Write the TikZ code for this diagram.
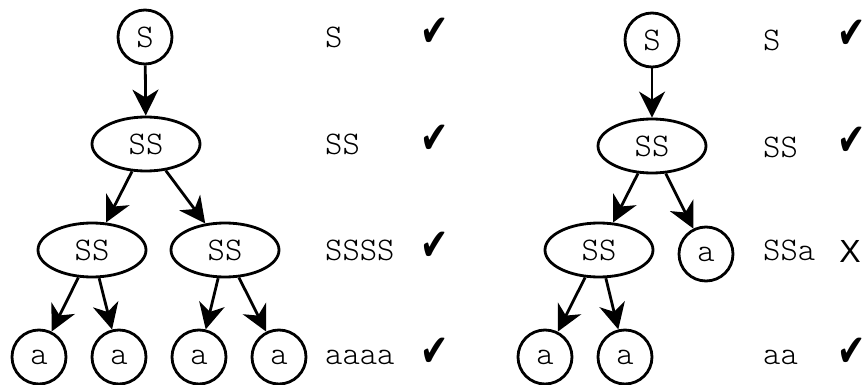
\documentclass[tikz,border=0pt]{standalone}
\usepackage{fontspec}
\usetikzlibrary{shapes.geometric,arrows.meta}
\newfontfamily\symfont{DejaVu Sans}
\newfontfamily\xfont{Liberation Sans}
\begin{document}
\begin{tikzpicture}[x=1pt,y=-1pt,
  every node/.style={font=\ttfamily\fontseries{l}\fontsize{33}{36}\selectfont},
  circ/.style={draw,circle,line width=2.8pt,minimum size=54pt,inner sep=0pt},
  ell/.style={draw,ellipse,line width=2.8pt,minimum width=108pt,minimum height=54pt,inner sep=0pt},
  arr/.style={line width=2.8pt,-{Stealth[length=26pt,width=26pt,inset=8pt]}},
  lbl/.style={anchor=west,inner sep=0pt},
  chk/.style={inner sep=0pt,xscale=0.75,font=\symfont\fontsize{45}{46}\selectfont},
  crs/.style={inner sep=0pt,font=\xfont\fontsize{32}{36}\selectfont}]
\useasboundingbox (0,0) rectangle (868,385);
% left tree
\node[circ] (l1) at (145,37) {S};
\node[ell] (l2) at (146,144) {SS};
\node[ell] (l3a) at (92,250) {SS};
\node[ell] (l3b) at (225,250) {SS};
\node[circ] (l4a) at (39,357) {a};
\node[circ] (l4b) at (119,357) {a};
\node[circ] (l4c) at (199,357) {a};
\node[circ] (l4d) at (279,357) {a};
\draw[arr] (l1) -- (l2);
\draw[arr] (l2) -- (l3a);
\draw[arr] (l2) -- (l3b);
\draw[arr] (l3a) -- (l4a);
\draw[arr] (l3a) -- (l4b);
\draw[arr] (l3b) -- (l4c);
\draw[arr] (l3b) -- (l4d);
\node[lbl] (lt1) at (325,37) {S};
\node[lbl] (lt2) at (325,144) {SS};
\node[lbl] (lt3) at (325,250) {SSSS};
\node[lbl] (lt4) at (325,357) {aaaa};
\node[chk] (lc1) at (435,32) {✔};
\node[chk] (lc2) at (435,139) {✔};
\node[chk] (lc3) at (435,246) {✔};
\node[chk] (lc4) at (435,352) {✔};
% right tree
\node[circ] (r1) at (652,40) {S};
\node[ell] (r2) at (652,146) {SS};
\node[ell] (r3a) at (599,250) {SS};
\node[circ] (r3b) at (706,254) {a};
\node[circ] (r4a) at (545,357) {a};
\node[circ] (r4b) at (625,357) {a};
\draw[arr] (r1) -- (r2);
\draw[arr] (r2) -- (r3a);
\draw[arr] (r2) -- (r3b);
\draw[arr] (r3a) -- (r4a);
\draw[arr] (r3a) -- (r4b);
\node[lbl] (rt1) at (763,40) {S};
\node[lbl] (rt2) at (763,147) {SS};
\node[lbl] (rt3) at (763,250) {SSa};
\node[lbl] (rt4) at (763,357) {aa};
\node[chk] (rc1) at (852,34) {✔};
\node[chk] (rc2) at (852,141) {✔};
\node[crs] (rc3) at (850,251) {X};
\node[chk] (rc4) at (852,352) {✔};
\end{tikzpicture}
\end{document}
